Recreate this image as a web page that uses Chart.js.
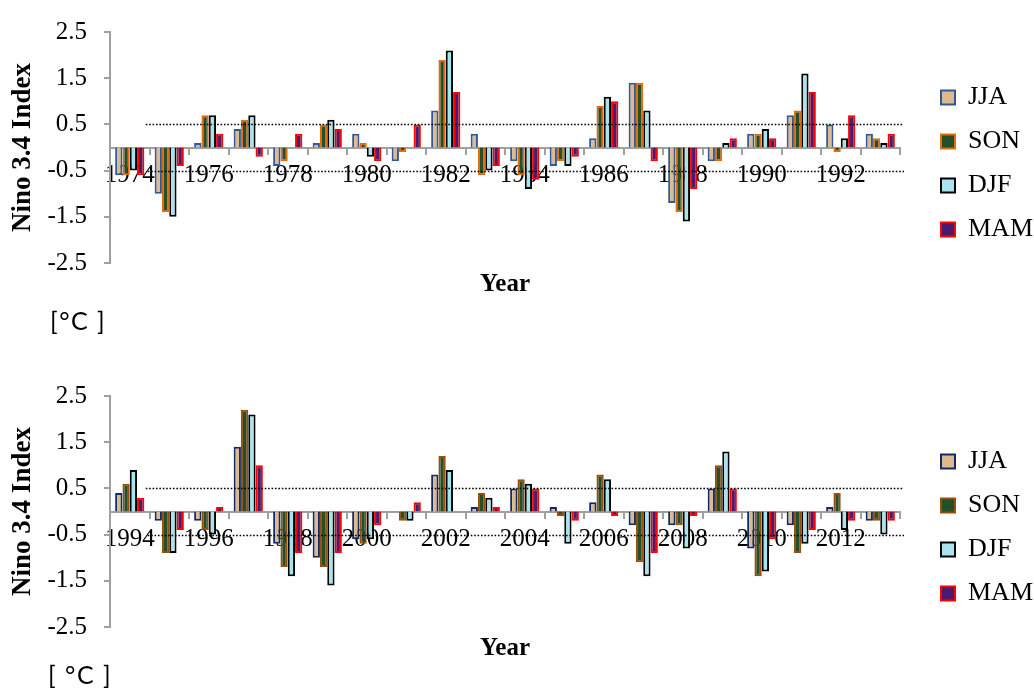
<!DOCTYPE html>
<html>
<head>
<meta charset="utf-8">
<script src="https://cdn.jsdelivr.net/npm/chart.js@4.4.1/dist/chart.umd.min.js"></script>
<style>
html,body{margin:0;padding:0;background:#ffffff;}
#wrap{position:relative;width:1034px;height:688px;overflow:hidden;}
.panel{position:absolute;left:0;width:1034px;}
#p1{top:0;height:364px;}
#p2{top:364px;height:324px;}
</style>
</head>
<body>
<div id="wrap">
  <div class="panel" id="p1"><canvas id="c1"></canvas></div>
  <div class="panel" id="p2"><canvas id="c2"></canvas></div>
</div>
<script>
// ---------------- DATA ----------------
const seriesNames = ['JJA', 'SON', 'DJF', 'MAM'];

const yearsTop = ['1974','1975','1976','1977','1978','1979','1980','1981','1982','1983',
                  '1984','1985','1986','1987','1988','1989','1990','1991','1992','1993'];
const jjaTop = [-0.6, -1.0, 0.1, 0.4, -0.4, 0.1, 0.3, -0.3, 0.8, 0.3, -0.3, -0.4, 0.2, 1.4, -1.2, -0.3, 0.3, 0.7, 0.5, 0.3];
const sonTop = [-0.6, -1.4, 0.7, 0.6, -0.3, 0.5, 0.1, -0.1, 1.9, -0.6, -0.6, -0.3, 0.9, 1.4, -1.4, -0.3, 0.3, 0.8, -0.1, 0.2];
const djfTop = [-0.5, -1.5, 0.7, 0.7, 0.0, 0.6, -0.2, 0.0, 2.1, -0.5, -0.9, -0.4, 1.1, 0.8, -1.6, 0.1, 0.4, 1.6, 0.2, 0.1];
const mamTop = [-0.6, -0.4, 0.3, -0.2, 0.3, 0.4, -0.3, 0.5, 1.2, -0.4, -0.7, -0.2, 1.0, -0.3, -0.9, 0.2, 0.2, 1.2, 0.7, 0.3];

const yearsBottom = ['1994','1995','1996','1997','1998','1999','2000','2001','2002','2003',
                     '2004','2005','2006','2007','2008','2009','2010','2011','2012','2013'];
const jjaBottom = [0.4, -0.2, -0.2, 1.4, -0.7, -1.0, -0.6, 0.0, 0.8, 0.1, 0.5, 0.1, 0.2, -0.3, -0.3, 0.5, -0.8, -0.3, 0.1, -0.2];
const sonBottom = [0.6, -0.9, -0.4, 2.2, -1.2, -1.2, -0.7, -0.2, 1.2, 0.4, 0.7, -0.1, 0.8, -1.1, -0.3, 1.0, -1.4, -0.9, 0.4, -0.2];
const djfBottom = [0.9, -0.9, -0.5, 2.1, -1.4, -1.6, -0.6, -0.2, 0.9, 0.3, 0.6, -0.7, 0.7, -1.4, -0.8, 1.3, -1.3, -0.7, -0.4, -0.5];
const mamBottom = [0.3, -0.4, 0.1, 1.0, -0.9, -0.9, -0.3, 0.2, 0.0, 0.1, 0.5, -0.2, -0.1, -0.9, -0.1, 0.5, -0.6, -0.4, -0.2, -0.2];

const yTickValues = [-2.5, -1.5, -0.5, 0.5, 1.5, 2.5];
const thresholdValues = [0.5, -0.5];

const yAxisTitle = 'Nino 3.4 Index';
const xAxisTitle = 'Year';
const unitTop = '[\u00B0C ]';
const unitBottom = '[ \u00B0C ]';

// ---------------- STYLE ----------------
const SERIF = '"Liberation Serif", "Times New Roman", "DejaVu Serif", serif';
const SANS = 'Lato, "Open Sans", "Noto Sans", sans-serif';
const AXIS_GRAY = '#A0A0A0';
const fillColors = ['#DDB98C', '#21502A', '#A9E3EC', '#4B1A6E'];
const bordersTop = ['#2E5A99', '#E46C0A', '#000000', '#FF0000'];
const bordersBottom = ['#102A6B', '#9A4E0C', '#000000', '#FF0000'];

// ---------------- PLUGINS ----------------
const guideLines = {
  id: 'guideLines',
  afterDatasetsDraw(chart, args, opts) {
    const {ctx, chartArea, scales} = chart;
    const x = scales.x, y = scales.y;
    ctx.save();
    ctx.strokeStyle = '#000';
    ctx.lineWidth = 1.6;
    ctx.setLineDash([1.6, 1.8]);
    opts.values.forEach((v, i) => {
      const py = Math.round(y.getPixelForValue(v)) + 0.5;
      const x0 = x.getPixelForValue(0) + opts.startOffset[i];
      const x1 = chartArea.right + opts.endOffset[i];
      ctx.beginPath();
      ctx.moveTo(x0, py);
      ctx.lineTo(x1, py);
      ctx.stroke();
    });
    ctx.restore();
  }
};

const unitLabel = {
  id: 'unitLabel',
  afterDraw(chart, args, opts) {
    const {ctx, chartArea} = chart;
    ctx.save();
    ctx.font = '25px ' + SANS;
    if ('letterSpacing' in ctx) ctx.letterSpacing = '1.5px';
    ctx.fillStyle = '#000';
    ctx.textBaseline = 'middle';
    ctx.textAlign = 'left';
    ctx.fillText(opts.text, chartArea.left + opts.dx, chartArea.bottom + opts.dy);
    ctx.restore();
  }
};

// ---------------- BUILD ----------------
function buildChart(canvasId, years, values, borders, unitText, unitDx, unitDy, bottomPad) {
  const datasets = seriesNames.map((name, i) => ({
    label: name,
    data: values[i],
    backgroundColor: fillColors[i],
    borderColor: borders[i],
    borderWidth: 2,
    categoryPercentage: 0.74,
    barPercentage: 1.0
  }));
  return new Chart(document.getElementById(canvasId), {
    type: 'bar',
    data: {labels: years, datasets: datasets},
    options: {
      responsive: true,
      maintainAspectRatio: false,
      animation: false,
      layout: {padding: {left: 0, right: 0, top: 20, bottom: bottomPad}},
      scales: {
        x: {
          position: {y: 0},
          offset: true,
          grid: {display: true, drawOnChartArea: false, drawTicks: true, tickLength: 6, color: AXIS_GRAY, lineWidth: 2, offset: true},
          border: {display: true, color: AXIS_GRAY, width: 2},
          ticks: {
            autoSkip: false, maxRotation: 0, minRotation: 0, padding: 7, color: '#000',
            font: {family: SERIF, size: 25},
            callback: function(v, i) { return i % 2 === 0 ? this.getLabelForValue(v) : ''; }
          },
          afterFit: s => { s.height = 0; }
        },
        y: {
          min: -2.5, max: 2.5,
          afterBuildTicks: s => { s.ticks = yTickValues.map(v => ({value: v})); },
          grid: {display: true, drawOnChartArea: false, tickLength: 6, color: AXIS_GRAY, lineWidth: 2},
          border: {display: true, color: AXIS_GRAY, width: 2},
          ticks: {padding: 17, color: '#000', font: {family: SERIF, size: 25}, callback: v => Number(v).toFixed(1)},
          title: {display: true, text: yAxisTitle, color: '#000', font: {family: SERIF, size: 27, weight: 'bold'}, padding: {top: 7, bottom: 0}},
          afterFit: s => { s.width = 110; }
        },
        spacer: {
          type: 'linear', position: 'right', display: true,
          grid: {display: false}, border: {display: false}, ticks: {display: false},
          afterFit: s => { s.width = 23; }
        }
      },
      plugins: {
        legend: {
          position: 'right', align: 'start', maxWidth: 111,
          title: {display: true, text: '', padding: {top: 32, bottom: 0}, font: {size: 12}},
          labels: {boxWidth: 14, boxHeight: 14, padding: 18, color: '#000', font: {family: SERIF, size: 26}}
        },
        title: {
          display: true, text: xAxisTitle, position: 'bottom', fullSize: false, color: '#000',
          font: {family: SERIF, size: 25, weight: 'bold'}, padding: {top: 7, bottom: 0}
        },
        tooltip: {enabled: false},
        guideLines: {values: thresholdValues, startOffset: [16, 18], endOffset: [4, 4]},
        unitLabel: {text: unitText, dx: unitDx, dy: unitDy}
      }
    },
    plugins: [guideLines, unitLabel]
  });
}

buildChart('c1', yearsTop, [jjaTop, sonTop, djfTop, mamTop], bordersTop, unitTop, -60, 59, 64);
buildChart('c2', yearsBottom, [jjaBottom, sonBottom, djfBottom, mamBottom], bordersBottom, unitBottom, -62, 49, 24);
</script>
</body>
</html>
